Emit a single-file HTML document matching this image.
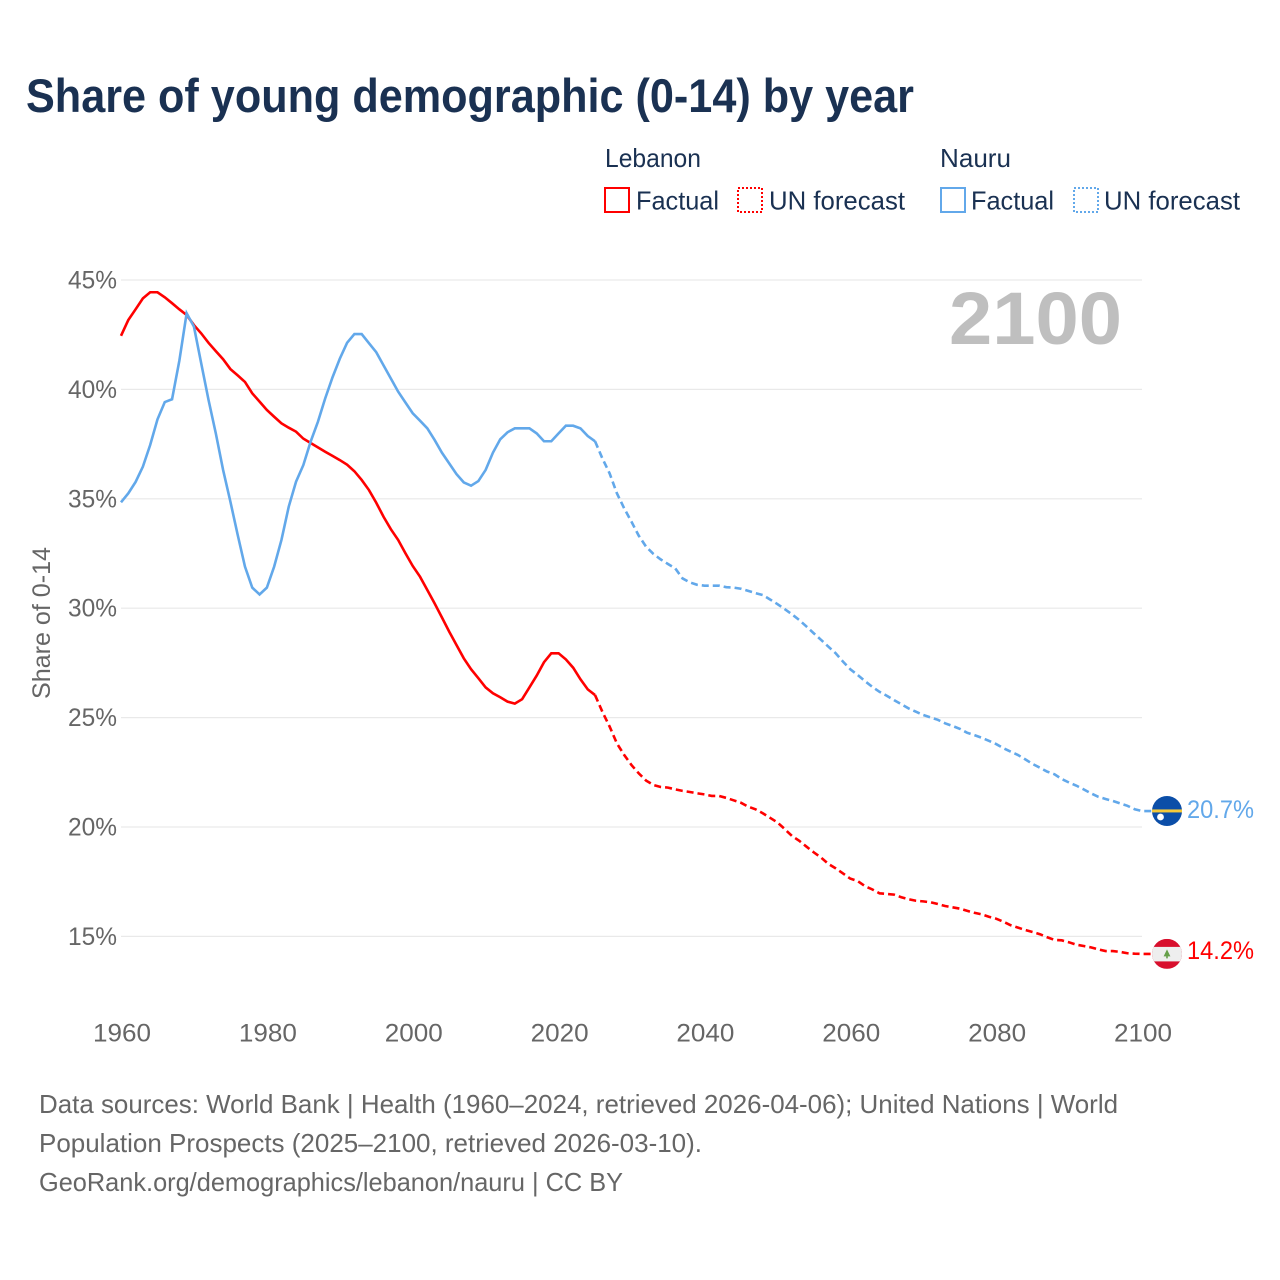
<!DOCTYPE html>
<html lang="en">
<head>
<meta charset="utf-8">
<title>Share of young demographic (0-14) by year</title>
<style>
html,body{margin:0;padding:0;background:#fff}
svg{display:block;font-family:"Liberation Sans",sans-serif}
</style>
</head>
<body>
<svg id="chart" xmlns="http://www.w3.org/2000/svg" width="1280" height="1280" viewBox="0 0 1280 1280">
<rect width="1280" height="1280" fill="#ffffff"/>
<text x="26" y="112" font-size="47" font-weight="700" fill="#1a3152" textLength="888" lengthAdjust="spacingAndGlyphs">Share of young demographic (0-14) by year</text>
<g font-size="26" fill="#1a3152">
<text x="605" y="167" textLength="96" lengthAdjust="spacingAndGlyphs">Lebanon</text>
<text x="940" y="167" textLength="71" lengthAdjust="spacingAndGlyphs">Nauru</text>
<rect x="605" y="188" width="24" height="24" fill="none" stroke="#ff0000" stroke-width="2"/>
<text x="636" y="209.5" textLength="83" lengthAdjust="spacingAndGlyphs">Factual</text>
<rect x="738" y="188" width="24" height="24" fill="none" stroke="#ff0000" stroke-width="2" stroke-dasharray="2 2"/>
<text x="769" y="209.5" textLength="136" lengthAdjust="spacingAndGlyphs">UN forecast</text>
<rect x="941" y="188" width="24" height="24" fill="none" stroke="#62a8ea" stroke-width="2"/>
<text x="971" y="209.5" textLength="83" lengthAdjust="spacingAndGlyphs">Factual</text>
<rect x="1074" y="188" width="24" height="24" fill="none" stroke="#62a8ea" stroke-width="2" stroke-dasharray="2 2"/>
<text x="1104" y="209.5" textLength="136" lengthAdjust="spacingAndGlyphs">UN forecast</text>
</g>
<g id="grid"></g>
<text x="949" y="344" font-size="74" font-weight="700" fill="#bfbfbf" textLength="173" lengthAdjust="spacingAndGlyphs">2100</text>
<text transform="translate(50 623) rotate(-90)" text-anchor="middle" font-size="25" fill="#666666" textLength="152" lengthAdjust="spacingAndGlyphs">Share of 0-14</text>
<g id="yticks"></g>
<g id="xticks"></g>
<g id="series"></g>
<g id="markers"></g>
<g font-size="26" fill="#666666">
<text x="39" y="1113" textLength="1079" lengthAdjust="spacingAndGlyphs">Data sources: World Bank | Health (1960–2024, retrieved 2026-04-06); United Nations | World</text>
<text x="39" y="1152" textLength="663" lengthAdjust="spacingAndGlyphs">Population Prospects (2025–2100, retrieved 2026-03-10).</text>
<text x="39" y="1191" textLength="584" lengthAdjust="spacingAndGlyphs">GeoRank.org/demographics/lebanon/nauru | CC BY</text>
</g>
</svg>
<script>
const yTicks = [15, 20, 25, 30, 35, 40, 45];
const xTicks = [1960, 1980, 2000, 2020, 2040, 2060, 2080, 2100];
const factualStartYear = 1960;
const forecastStartYear = 2025;
const lebanonFactual = [
42.45,43.17,43.66,44.16,44.44,44.44,44.21,43.94,43.66,43.40,
42.94,42.56,42.13,41.75,41.38,40.93,40.64,40.34,39.82,39.44,
39.06,38.75,38.45,38.25,38.07,37.75,37.55,37.35,37.15,36.96,
36.77,36.56,36.26,35.86,35.40,34.82,34.18,33.61,33.12,32.51,
31.93,31.44,30.83,30.22,29.58,28.93,28.32,27.71,27.21,26.80,
26.38,26.11,25.93,25.73,25.64,25.84,26.38,26.92,27.53,27.94,
27.94,27.66,27.28,26.75,26.29,26.03];
const lebanonForecast = [
26.03,25.27,24.59,23.82,23.29,22.83,22.45,22.12,21.92,21.83,
21.80,21.72,21.65,21.60,21.54,21.49,21.42,21.42,21.33,21.22,
21.11,20.93,20.81,20.63,20.42,20.21,19.91,19.59,19.37,19.10,
18.84,18.60,18.31,18.11,17.88,17.64,17.53,17.30,17.15,16.97,
16.94,16.91,16.79,16.70,16.63,16.60,16.56,16.48,16.39,16.33,
16.27,16.17,16.08,16.01,15.90,15.81,15.67,15.51,15.40,15.29,
15.20,15.10,14.96,14.84,14.82,14.73,14.62,14.56,14.50,14.41,
14.33,14.33,14.29,14.23,14.21,14.20];
const nauruFactual = [
34.84,35.25,35.77,36.47,37.46,38.63,39.42,39.55,41.31,43.48,
42.87,41.19,39.52,37.99,36.32,34.87,33.35,31.90,30.94,30.63,
30.94,31.90,33.12,34.64,35.78,36.54,37.61,38.52,39.59,40.55,
41.40,42.13,42.53,42.53,42.11,41.70,41.10,40.50,39.90,39.40,
38.91,38.57,38.22,37.69,37.11,36.62,36.13,35.75,35.60,35.81,
36.32,37.11,37.72,38.04,38.22,38.22,38.22,37.99,37.63,37.63,
37.99,38.34,38.34,38.22,37.87,37.63];
const nauruForecast = [
37.63,36.85,36.16,35.25,34.56,33.95,33.31,32.81,32.48,32.23,
32.02,31.82,31.36,31.18,31.07,31.03,31.03,31.03,30.96,30.94,
30.89,30.79,30.69,30.60,30.40,30.19,29.96,29.72,29.46,29.16,
28.85,28.55,28.24,27.94,27.56,27.21,26.95,26.67,26.41,26.18,
26.00,25.80,25.61,25.42,25.27,25.12,25.01,24.90,24.74,24.62,
24.49,24.31,24.20,24.08,23.94,23.79,23.60,23.44,23.29,23.09,
22.88,22.71,22.53,22.41,22.19,22.03,21.89,21.72,21.54,21.38,
21.28,21.19,21.08,20.97,20.81,20.73];

const RED = '#ff0000';
const BLUE = '#62a8ea';
const NS = 'http://www.w3.org/2000/svg';
function xScale(year) { return 121 + (year - 1960) * 7.293; }
function yScale(value) { return 280 + (45 - value) * 21.88; }
function make(tag, parent) {
  const el = document.createElementNS(NS, tag);
  parent.appendChild(el);
  return el;
}
function linePoints(values, startYear) {
  return values.map((v, i) => xScale(startYear + i).toFixed(2) + ',' + yScale(v).toFixed(2)).join(' ');
}

const gridGroup = document.getElementById('grid');
const yTickGroup = document.getElementById('yticks');
yTicks.forEach((t) => {
  const line = make('line', gridGroup);
  
  
  line.setAttribute('x1', xScale(1960));
  line.setAttribute('x2', xScale(2100));
  line.setAttribute('y1', yScale(t));
  line.setAttribute('y2', yScale(t));
  line.setAttribute('stroke', '#e9e9e9');
  line.setAttribute('stroke-width', '1.2');
  const label = make('text', yTickGroup);
  
  
  label.setAttribute('x', 117);
  label.setAttribute('y', yScale(t) + 8.5);
  label.setAttribute('text-anchor', 'end');
  label.setAttribute('font-size', '25');
  label.setAttribute('fill', '#666666');
  label.setAttribute('textLength', '49');
  label.setAttribute('lengthAdjust', 'spacingAndGlyphs');
  label.textContent = t + '%';
});

const xTickGroup = document.getElementById('xticks');
xTicks.forEach((t) => {
  const label = make('text', xTickGroup);
  
  
  label.setAttribute('x', xScale(t) + 1);
  label.setAttribute('y', 1041.5);
  label.setAttribute('text-anchor', 'middle');
  label.setAttribute('font-size', '25');
  label.setAttribute('fill', '#666666');
  label.setAttribute('textLength', '58');
  label.setAttribute('lengthAdjust', 'spacingAndGlyphs');
  label.textContent = t;
});

const seriesGroup = document.getElementById('series');

const lebanonFactualLine = make('polyline', seriesGroup);


lebanonFactualLine.setAttribute('points', linePoints(lebanonFactual, factualStartYear));
lebanonFactualLine.setAttribute('fill', 'none');
lebanonFactualLine.setAttribute('stroke', RED);
lebanonFactualLine.setAttribute('stroke-width', '2.6');

const lebanonForecastLine = make('polyline', seriesGroup);


lebanonForecastLine.setAttribute('points', linePoints(lebanonForecast, forecastStartYear) + ' 1152,' + yScale(lebanonForecast[lebanonForecast.length - 1]).toFixed(2));
lebanonForecastLine.setAttribute('fill', 'none');
lebanonForecastLine.setAttribute('stroke', RED);
lebanonForecastLine.setAttribute('stroke-width', '2.6');
lebanonForecastLine.setAttribute('stroke-dasharray', '7 4');

const nauruFactualLine = make('polyline', seriesGroup);


nauruFactualLine.setAttribute('points', linePoints(nauruFactual, factualStartYear));
nauruFactualLine.setAttribute('fill', 'none');
nauruFactualLine.setAttribute('stroke', BLUE);
nauruFactualLine.setAttribute('stroke-width', '2.6');

const nauruForecastLine = make('polyline', seriesGroup);


nauruForecastLine.setAttribute('points', linePoints(nauruForecast, forecastStartYear) + ' 1152,' + yScale(nauruForecast[nauruForecast.length - 1]).toFixed(2));
nauruForecastLine.setAttribute('fill', 'none');
nauruForecastLine.setAttribute('stroke', BLUE);
nauruForecastLine.setAttribute('stroke-width', '2.6');
nauruForecastLine.setAttribute('stroke-dasharray', '7 4');

const markerGroup = document.getElementById('markers');

const nauruEnd = nauruForecast[nauruForecast.length - 1];
const nauruFlag = make('g', markerGroup);


nauruFlag.setAttribute('transform', 'translate(1167 ' + yScale(nauruEnd).toFixed(2) + ')');
nauruFlag.innerHTML = '<circle r="15" fill="#0b4ea8"/><rect x="-15" y="-1.6" width="30" height="3" fill="#f5c93a"/><circle cx="-6.5" cy="6" r="3.4" fill="#ffffff"/>';
const nauruLabel = make('text', markerGroup);


nauruLabel.setAttribute('x', 1187);
nauruLabel.setAttribute('y', yScale(nauruEnd) + 7);
nauruLabel.setAttribute('font-size', '25');
nauruLabel.setAttribute('fill', BLUE);
nauruLabel.setAttribute('textLength', '67');
nauruLabel.setAttribute('lengthAdjust', 'spacingAndGlyphs');
nauruLabel.textContent = nauruEnd.toFixed(1) + '%';

const lebanonEnd = lebanonForecast[lebanonForecast.length - 1];
const lebanonFlag = make('g', markerGroup);


lebanonFlag.setAttribute('transform', 'translate(1167 ' + yScale(lebanonEnd).toFixed(2) + ')');
lebanonFlag.innerHTML = '<clipPath id="lb-clip"><circle r="15"/></clipPath><g clip-path="url(#lb-clip)"><rect x="-15" y="-15" width="30" height="30" fill="#d80f2d"/><rect x="-15" y="-7" width="30" height="14.5" fill="#eeeeee"/></g><path d="M0 -4.5 L3.4 2.5 L0.8 2.5 L0.8 4.5 L-0.8 4.5 L-0.8 2.5 L-3.4 2.5 Z" fill="#66a04a"/>';
const lebanonLabel = make('text', markerGroup);


lebanonLabel.setAttribute('x', 1187);
lebanonLabel.setAttribute('y', yScale(lebanonEnd) + 5);
lebanonLabel.setAttribute('font-size', '25');
lebanonLabel.setAttribute('fill', RED);
lebanonLabel.setAttribute('textLength', '67');
lebanonLabel.setAttribute('lengthAdjust', 'spacingAndGlyphs');
lebanonLabel.textContent = lebanonEnd.toFixed(1) + '%';
</script>
</body>
</html>
